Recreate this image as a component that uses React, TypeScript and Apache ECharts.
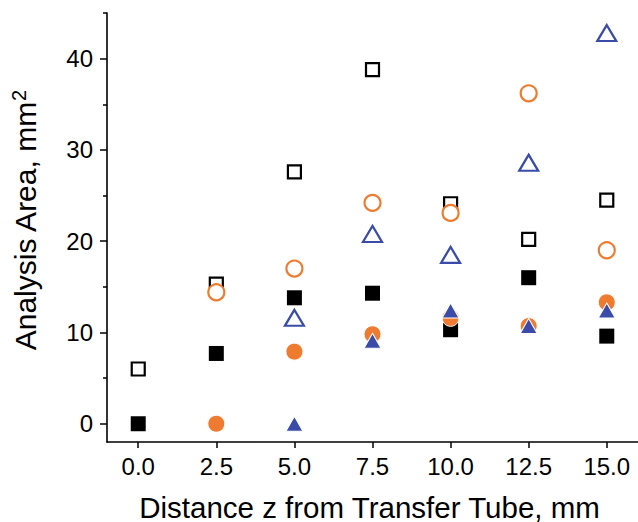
import React, { useEffect, useRef } from "react";
import * as echarts from "echarts";

const xTicks = [0, 2.5, 5, 7.5, 10, 12.5, 15];
const yTicks = [0, 10, 20, 30, 40];
const yMinorTicks = [5, 15, 25, 35, 45];

const openSquareX = [0, 2.5, 5, 7.5, 10, 12.5, 15];
const openSquareY = [6.0, 15.3, 27.6, 38.8, 24.1, 20.2, 24.5];
const filledSquareX = [0, 2.5, 5, 7.5, 10, 12.5, 15];
const filledSquareY = [0, 7.7, 13.8, 14.3, 10.3, 16.0, 9.6];
const openCircleX = [2.5, 5, 7.5, 10, 12.5, 15];
const openCircleY = [14.4, 17.0, 24.2, 23.1, 36.2, 19.0];
const filledCircleX = [2.5, 5, 7.5, 10, 12.5, 15];
const filledCircleY = [0, 7.9, 9.8, 11.6, 10.7, 13.3];
const openTriangleX = [5, 7.5, 10, 12.5, 15];
const openTriangleY = [11.6, 20.8, 18.5, 28.6, 42.8];
const filledTriangleX = [5, 7.5, 10, 12.5, 15];
const filledTriangleY = [0, 9.1, 12.4, 10.7, 12.4];

const BLACK = "#000000";
const ORANGE = "#EF7B30";
const BLUE = "#3A4CA8";
const FONT = "'Liberation Sans', Arial, sans-serif";

const zip = (xs: number[], ys: number[]) => xs.map((x, i) => [x, ys[i]]);

export default function App() {
  const ref = useRef<HTMLDivElement>(null);
  useEffect(() => {
    if (!ref.current) return;
    const chart = echarts.init(ref.current, null, { renderer: "svg" });
    const axisLine = { show: true, onZero: false, lineStyle: { color: BLACK, width: 1.6 } };
    chart.setOption({
      animation: false,
      backgroundColor: "#ffffff",
      grid: { left: 107, right: 0, top: 13, bottom: 80, containLabel: false, outerBoundsMode: "none" },
      xAxis: {
        type: "value",
        min: -1,
        max: 16,
        axisLine,
        splitLine: { show: false },
        axisTick: { show: true, customValues: xTicks, length: 6, lineStyle: { color: BLACK, width: 1.5 } },
        axisLabel: {
          customValues: xTicks,
          formatter: (v: number) => v.toFixed(1),
          fontSize: 24,
          color: BLACK,
          fontFamily: FONT,
          margin: 12,
        },
        name: "Distance z from Transfer Tube, mm",
        nameLocation: "middle",
        nameGap: 50,
        nameTextStyle: { fontSize: 29.5, color: BLACK, fontFamily: FONT, padding: [0, 6, 0, 0] },
      },
      yAxis: [
        {
          type: "value",
          min: -2,
          max: 45,
          axisLine,
          splitLine: { show: false },
          axisTick: { show: true, customValues: yTicks, length: 7, lineStyle: { color: BLACK, width: 1.5 } },
          axisLabel: {
            customValues: yTicks,
            fontSize: 24,
            color: BLACK,
            fontFamily: FONT,
            margin: 14,
          },
          name: "Analysis Area, mm{sup|2}",
          nameLocation: "middle",
          nameGap: 66,
          nameTextStyle: {
            fontSize: 30,
            color: BLACK,
            fontFamily: FONT,
            padding: [0, 0, 0, 14],
            rich: {
              sup: { fontSize: 20, verticalAlign: "top", color: BLACK, fontFamily: FONT, padding: [0, 0, 12, 0] },
            },
          },
        },
        {
          type: "value",
          position: "left",
          min: -2,
          max: 45,
          axisLine: { show: false, onZero: false },
          splitLine: { show: false },
          axisTick: { show: true, customValues: yMinorTicks, length: 4, lineStyle: { color: BLACK, width: 1.5 } },
          axisLabel: { show: false },
        },
      ],
      series: [
        {
          name: "open square",
          type: "scatter",
          symbol: "rect",
          symbolSize: 13,
          data: zip(openSquareX, openSquareY),
          itemStyle: { color: "#ffffff", borderColor: BLACK, borderWidth: 2.2, opacity: 1 },
        },
        {
          name: "open circle",
          type: "scatter",
          symbol: "circle",
          symbolSize: 16,
          data: zip(openCircleX, openCircleY),
          itemStyle: { color: "#ffffff", borderColor: ORANGE, borderWidth: 2.2, opacity: 1 },
        },
        {
          name: "open triangle",
          type: "scatter",
          symbol: "triangle",
          symbolSize: [19, 16],
          data: zip(openTriangleX, openTriangleY),
          itemStyle: { color: "#ffffff", borderColor: BLUE, borderWidth: 2.2, opacity: 1 },
        },
        {
          name: "filled square",
          type: "scatter",
          symbol: "rect",
          symbolSize: 15,
          data: zip(filledSquareX, filledSquareY),
          itemStyle: { color: BLACK, opacity: 1 },
        },
        {
          name: "filled circle",
          type: "scatter",
          symbol: "circle",
          symbolSize: 17,
          data: zip(filledCircleX, filledCircleY),
          itemStyle: { color: ORANGE, borderColor: "#ffffff", borderWidth: 1, opacity: 1 },
        },
        {
          name: "filled triangle",
          type: "scatter",
          symbol: "triangle",
          symbolSize: [17, 15],
          data: zip(filledTriangleX, filledTriangleY),
          itemStyle: { color: BLUE, borderColor: "#ffffff", borderWidth: 1, opacity: 1 },
        },
      ],
    });
    return () => chart.dispose();
  }, []);
  return (
    <div
      ref={ref}
      style={{ position: "fixed", left: 0, top: 0, width: 638, height: 522, background: "#fff" }}
    />
  );
}
